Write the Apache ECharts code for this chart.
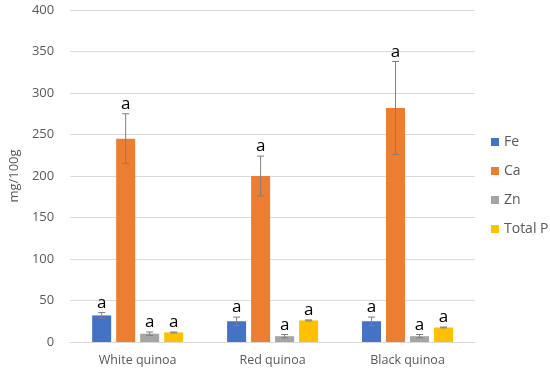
<!DOCTYPE html>
<html><head><meta charset="utf-8">
<script src="https://cdn.jsdelivr.net/npm/echarts@6/dist/echarts.min.js"></script>
<style>html,body{margin:0;padding:0;background:#fff}#c{width:550px;height:374px}</style>
</head><body><div id="c"></div>
<script>
var categories = ['White quinoa', 'Red quinoa', 'Black quinoa'];
var seriesNames = ['Fe', 'Ca', 'Zn', 'Total P'];
var feValues = [32, 25, 25];
var feErrors = [3.5, 5, 5];
var caValues = [245, 200, 282];
var caErrors = [30, 24, 56];
var znValues = [10, 7, 7];
var znErrors = [2, 2, 2];
var pValues = [11.5, 26, 17.5];
var pErrors = [0.5, 0.6, 0.5];
var letters = [['a','a','a'],['a','a','a'],['a','a','a'],['a','a','a']];
var yTicks = [0, 50, 100, 150, 200, 250, 300, 350, 400];
var colors = ['#4472C4', '#ED7D31', '#A5A5A5', '#FFC000'];

var allValues = [feValues, caValues, znValues, pValues];
var allErrors = [feErrors, caErrors, znErrors, pErrors];
var FONT = 'Open Sans';
var BAR_W = 19, GAP = 5;

var chart = echarts.init(document.getElementById('c'));
var series = [];
seriesNames.forEach(function (name, i) {
  series.push({
    name: name, type: 'bar', data: allValues[i], barWidth: BAR_W, barGap: (GAP / BAR_W * 100) + '%',
    itemStyle: { color: colors[i] }
  });
});
seriesNames.forEach(function (name, i) {
  var data = allValues[i].map(function (v, j) { return [j, v, allErrors[i][j], letters[i][j]]; });
  series.push({
    type: 'custom', silent: true, z: 5,
    data: data,
    renderItem: function (params, api) {
      var j = api.value(0), v = api.value(1), e = api.value(2);
      var n = seriesNames.length;
      var off = (i - (n - 1) / 2) * (BAR_W + GAP);
      var hi = api.coord([j, v + e]), lo = api.coord([j, v - e]);
      var x = hi[0] + off;
      var cap = 3.5;
      var st = { stroke: '#7f7f7f', lineWidth: 1 };
      return {
        type: 'group',
        children: [
          { type: 'line', shape: { x1: x, y1: hi[1], x2: x, y2: lo[1] }, style: st },
          { type: 'line', shape: { x1: x - cap, y1: hi[1], x2: x + cap, y2: hi[1] }, style: st },
          { type: 'line', shape: { x1: x - cap, y1: lo[1], x2: x + cap, y2: lo[1] }, style: st },
          { type: 'text', style: { text: letters[i][j], x: x, y: hi[1] - 1, align: 'center', verticalAlign: 'bottom', fontSize: 17, fontFamily: FONT, fill: '#000' } }
        ]
      };
    }
  });
});

chart.setOption({
  animation: false,
  backgroundColor: '#fff',
  grid: { left: 70, right: 75, top: 10, bottom: 32 },
  legend: {
    data: seriesNames, orient: 'vertical', left: 486, top: 130, itemWidth: 8, itemHeight: 8, itemGap: 15,
    icon: 'rect', textStyle: { color: '#595959', fontSize: 14, fontFamily: FONT }
  },
  xAxis: {
    type: 'category', data: categories,
    axisLine: { lineStyle: { color: '#d9d9d9' } }, axisTick: { show: false },
    axisLabel: { color: '#595959', fontSize: 12.5, fontFamily: FONT, margin: 12 }
  },
  yAxis: {
    type: 'value', min: yTicks[0], max: yTicks[yTicks.length - 1], interval: 50,
    name: 'mg/100g', nameLocation: 'middle', nameGap: 44, nameRotate: 90,
    nameTextStyle: { color: '#595959', fontSize: 13, fontFamily: FONT },
    axisLine: { show: false }, axisTick: { show: false },
    axisLabel: { color: '#595959', fontSize: 13, fontFamily: FONT, margin: 16 },
    splitLine: { lineStyle: { color: '#d9d9d9' } }
  },
  series: series
});
</script></body></html>
